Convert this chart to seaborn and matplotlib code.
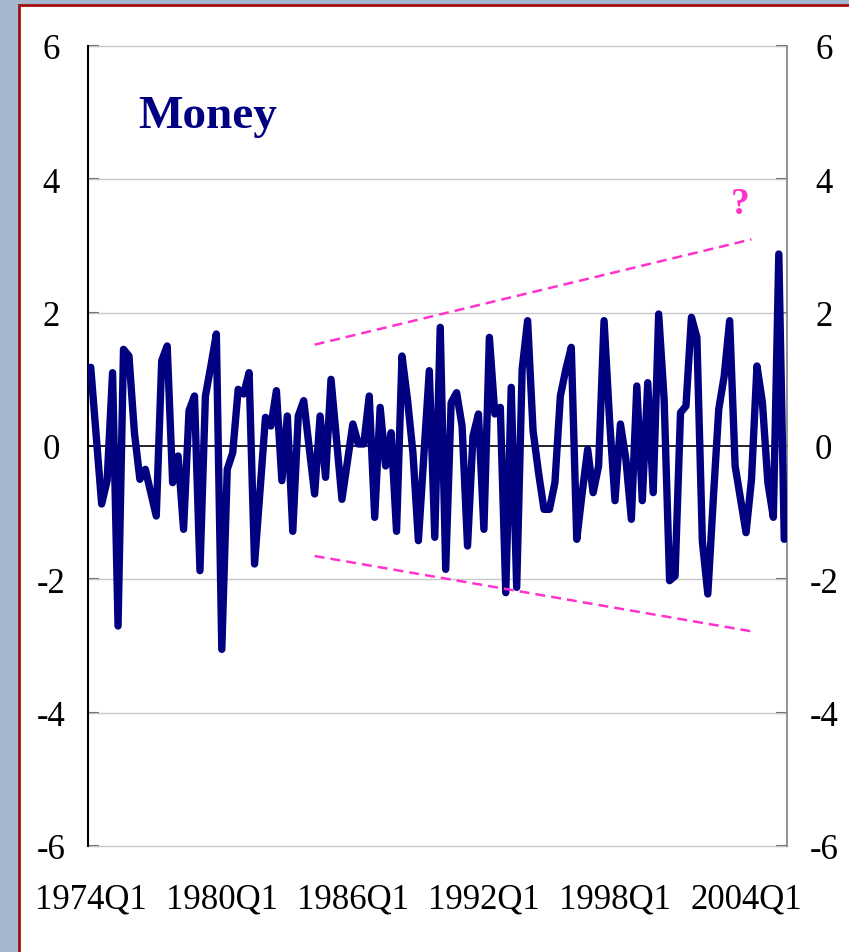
#!/usr/bin/env python3

import matplotlib

matplotlib.use("Agg")

import matplotlib.pyplot as plt
import numpy as np
import pandas as pd
import seaborn as sns
from matplotlib.patches import Rectangle

# quarterly money growth deviations, 1974Q1 .. 2005Q4
start_year = 1974
money = [
    1.18, 0.15, -0.87, -0.52, 1.10, -2.70, 1.45, 1.35,
    0.20, -0.50, -0.35, -0.70, -1.05, 1.28, 1.50, -0.55,
    -0.15, -1.25, 0.53, 0.75, -1.87, 0.75, 1.20, 1.68,
    -3.05, -0.35, -0.10, 0.85, 0.78, 1.10, -1.77, -0.67,
    0.43, 0.30, 0.83, -0.52, 0.45, -1.28, 0.45, 0.68,
    -0.02, -0.72, 0.45, -0.47, 1.00, 0.10, -0.80, -0.23,
    0.33, 0.03, 0.03, 0.75, -1.07, 0.58, -0.30, 0.20,
    -1.28, 1.35, 0.70, -0.10, -1.42, -0.15, 1.13, -1.37,
    1.78, -1.85, 0.65, 0.80, 0.30, -1.50, 0.15, 0.48,
    -1.25, 1.63, 0.48, 0.58, -2.20, 0.88, -2.12, 1.15,
    1.88, 0.23, -0.40, -0.95, -0.95, -0.55, 0.75, 1.15,
    1.48, -1.40, -0.70, -0.05, -0.70, -0.30, 1.88, 0.40,
    -0.82, 0.33, -0.20, -1.10, 0.90, -0.82, 0.95, -0.70,
    1.98, 0.70, -2.02, -1.95, 0.50, 0.60, 1.93, 1.63,
    -1.43, -2.22, -0.80, 0.55, 1.05, 1.88, -0.30, -0.80,
    -1.30, -0.50, 1.20, 0.65, -0.55, -1.07, 2.88, -1.40,
]

tick_labels = ["1974Q1", "1980Q1", "1986Q1", "1992Q1", "1998Q1", "2004Q1"]
y_ticks = [-6, -4, -2, 0, 2, 4, 6]

# widening band drawn by hand on the original
band_quarters = ["1984Q2", "2004Q2"]
upper_band = [1.52, 3.10]
lower_band = [-1.65, -2.78]
question_quarter = "2003Q4"
question_value = 3.63


def main():
    quarters = [f"{start_year + i // 4}Q{i % 4 + 1}" for i in range(len(money))]
    df = pd.DataFrame({"quarter": quarters, "pos": np.arange(len(money)), "money": money})
    pos = dict(zip(df.quarter, df.pos))

    sns.set_style("white")
    plt.rcParams["font.family"] = ["Liberation Serif", "DejaVu Serif"]

    fig = plt.figure(figsize=(8.49, 9.53), dpi=100)
    fig.patch.set_facecolor("#a5b6cf")
    fig.patches.append(
        Rectangle(
            (19 / 849, -0.05),
            1.05,
            1.05 - 6 / 953,
            transform=fig.transFigure,
            facecolor="white",
            edgecolor="#a01010",
            lw=2,
            zorder=-1,
        )
    )

    ax = fig.add_axes([88 / 849, 1 - 847 / 953, 699 / 849, 800 / 953])
    ax.set_facecolor("none")

    sns.lineplot(
        data=df,
        x="pos",
        y="money",
        color="#000080",
        lw=5.3,
        ax=ax,
        zorder=3,
    )
    for line in ax.lines:
        line.set_solid_joinstyle("round")
        line.set_solid_capstyle("round")

    band_x = [pos[q] for q in band_quarters]
    for band in [upper_band, lower_band]:
        ax.plot(band_x, band, color="#ff33cc", lw=1.8, dashes=(4, 2.4), zorder=4)
    ax.text(
        pos[question_quarter],
        question_value,
        "?",
        color="#ff33cc",
        fontsize=27,
        fontweight="bold",
        ha="center",
        va="center",
    )

    ax.text(
        0.172,
        0.9125,
        "Money",
        transform=ax.transAxes,
        color="#000080",
        fontsize=34,
        fontweight="bold",
        ha="center",
        va="center",
    )

    ax.set_xlim(-0.5, len(money) - 0.5)
    ax.set_ylim(-6, 6)
    ax.set_xlabel("")
    ax.set_ylabel("")

    for y in y_ticks:
        if y != 0:
            ax.axhline(y, color="#c8c8c8", lw=1, zorder=1, clip_on=False)

    ax.spines["top"].set_visible(False)
    ax.spines["left"].set_color("black")
    ax.spines["left"].set_linewidth(1.5)
    ax.spines["right"].set_color("#808080")
    ax.spines["right"].set_linewidth(1.2)
    ax.spines["bottom"].set_position(("data", 0))
    ax.spines["bottom"].set_color("black")
    ax.spines["bottom"].set_linewidth(1.2)
    ax.spines["bottom"].set_zorder(2)

    ax.set_yticks(y_ticks)
    ax.set_yticklabels([str(y) for y in y_ticks])
    ax.tick_params(
        axis="y",
        direction="in",
        length=8,
        width=1.5,
        color="#606060",
        labelcolor="black",
        labelsize=25,
        left=True,
        right=True,
        labelleft=True,
        labelright=True,
        pad=26.5,
    )
    for tick in ax.yaxis.get_major_ticks():
        tick.label1.set_horizontalalignment("center")
        tick.label2.set_horizontalalignment("center")

    ax.set_xticks(np.arange(11.5, len(money), 12))
    ax.tick_params(
        axis="x",
        direction="out",
        length=7,
        width=1.2,
        color="#808080",
        labelbottom=False,
    )

    sec = ax.secondary_xaxis("bottom")
    sec.set_xticks([pos[q] for q in tick_labels])
    sec.set_xticklabels(tick_labels)
    sec.tick_params(length=0, labelsize=25, labelcolor="black", pad=26)
    for spine in sec.spines.values():
        spine.set_visible(False)

    plt.savefig("out.png", dpi=100, facecolor=fig.get_facecolor())
    plt.close()


if __name__ == "__main__":
    main()
